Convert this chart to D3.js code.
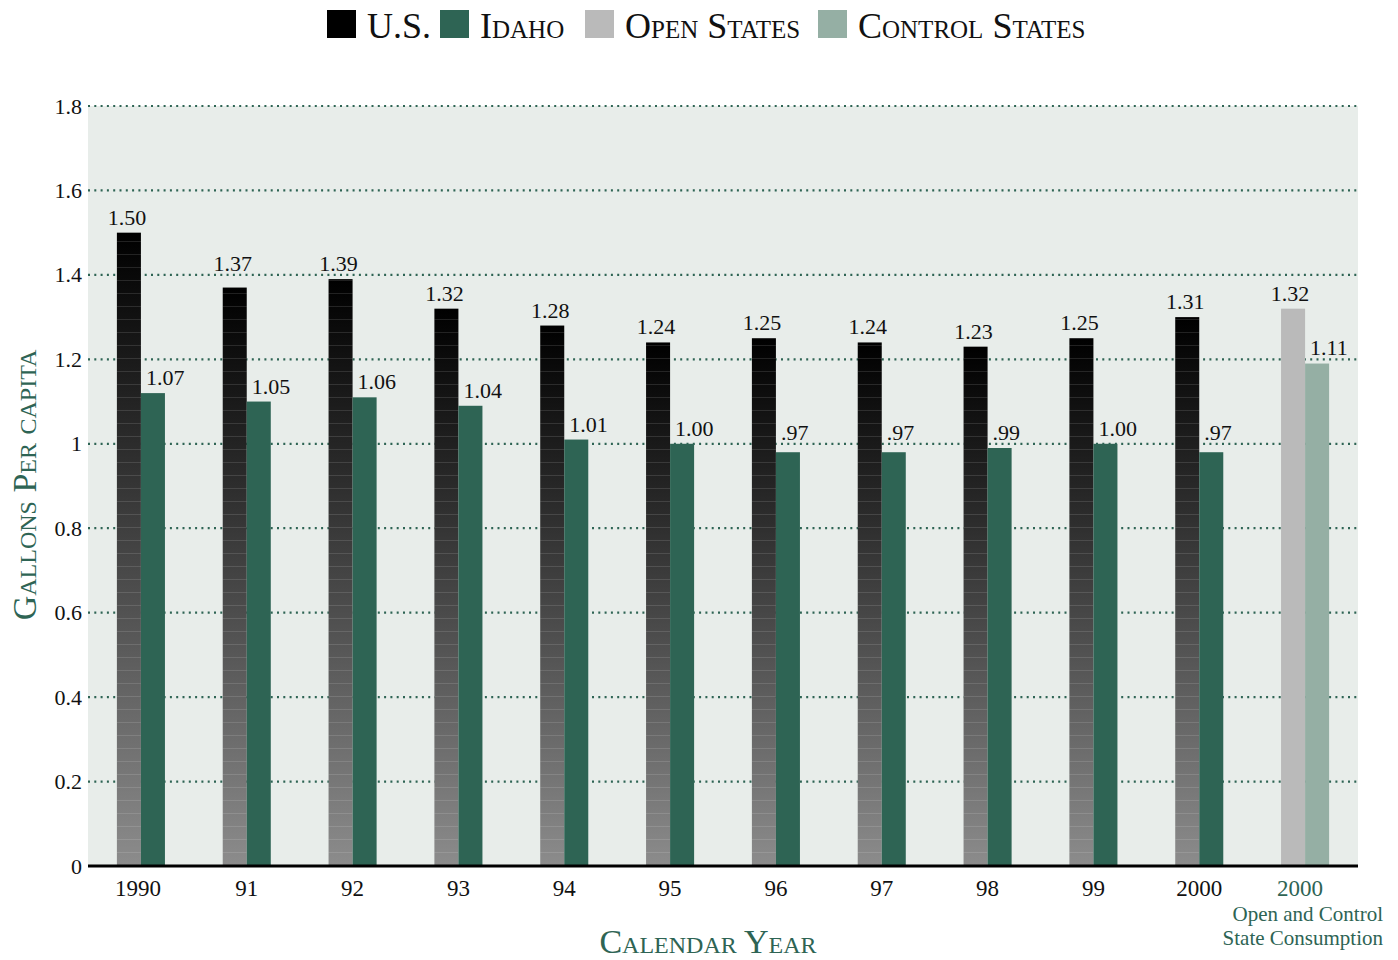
<!DOCTYPE html>
<html>
<head>
<meta charset="utf-8">
<script src="https://cdn.jsdelivr.net/npm/d3@7"></script>
<style>
  body { margin: 0; background: #fff; }
  svg text { font-family: "Liberation Serif", "DejaVu Serif", serif; }
  .sc { font-variant: small-caps; }
</style>
</head>
<body>
<svg id="chart" width="1398" height="960"></svg>
<script>
// categories and values (bar heights, labels as printed)
const categories = ["1990", "91", "92", "93", "94", "95", "96", "97", "98", "99", "2000", "2000 "];
const usValues = [1.50, 1.37, 1.39, 1.32, 1.28, 1.24, 1.25, 1.24, 1.23, 1.25, 1.30];
const usLabels = ["1.50", "1.37", "1.39", "1.32", "1.28", "1.24", "1.25", "1.24", "1.23", "1.25", "1.31"];
const idahoValues = [1.12, 1.10, 1.11, 1.09, 1.01, 1.00, 0.98, 0.98, 0.99, 1.00, 0.98];
const idahoLabels = ["1.07", "1.05", "1.06", "1.04", "1.01", "1.00", ".97", ".97", ".99", "1.00", ".97"];
const openValue = 1.32, openLabel = "1.32";
const controlValue = 1.19, controlLabel = "1.11";
const yTicks = [0, 0.2, 0.4, 0.6, 0.8, 1, 1.2, 1.4, 1.6, 1.8];
const legendItems = ["U.S.", "Idaho", "Open States", "Control States"];

const green = "#2e6454", black = "#000", openGrey = "#bababa", controlGreen = "#95afa4";

const margin = { top: 106, right: 40, bottom: 94, left: 88 },
      width  = 1398 - margin.left - margin.right,
      height = 960 - margin.top - margin.bottom;

const svg = d3.select("#chart");
const defs = svg.append("defs");

const grad = defs.append("linearGradient")
  .attr("id", "usGrad").attr("x1", 0).attr("y1", 0).attr("x2", 0).attr("y2", 1);
grad.append("stop").attr("offset", "0%").attr("stop-color", "#000");
grad.append("stop").attr("offset", "35%").attr("stop-color", "#2e2e2e");
grad.append("stop").attr("offset", "100%").attr("stop-color", "#8c8c8c");

const stripes = defs.append("pattern")
  .attr("id", "stripes").attr("patternUnits", "userSpaceOnUse")
  .attr("width", 10).attr("height", 13);
stripes.append("rect").attr("y", 5).attr("width", 10).attr("height", 1)
  .attr("fill", "#fff").attr("opacity", 0.12);

const g = svg.append("g").attr("transform", `translate(${margin.left},${margin.top})`);

const x = d3.scaleBand().domain(categories).range([0, width]).paddingInner(0.546).paddingOuter(0.273);
const y = d3.scaleLinear().domain([0, 1.8]).range([height, 0]);
const bw = x.bandwidth() / 2;

// background
g.append("rect").attr("width", width).attr("height", height).attr("fill", "#e8edea");

// grid
g.append("g").selectAll("line").data(yTicks.filter(d => d > 0)).join("line")
  .attr("x1", 0).attr("x2", width)
  .attr("y1", d => y(d)).attr("y2", d => y(d))
  .attr("stroke", green).attr("stroke-width", 2.2)
  .attr("stroke-dasharray", "2 4.3");

// y axis labels
const yAxis = g.append("g").call(d3.axisLeft(y).tickValues(yTicks).tickSize(0).tickPadding(6)
  .tickFormat(d => d === 0 || d === 1 ? String(d) : d3.format(".1f")(d)));
yAxis.select(".domain").remove();
yAxis.selectAll("text").attr("font-size", 22).attr("fill", "#111");

const years = categories.slice(0, 11);

// US bars
const usBars = g.append("g").selectAll("g").data(years).join("g");
usBars.append("rect")
  .attr("x", d => x(d)).attr("y", (d, i) => y(usValues[i]))
  .attr("width", bw).attr("height", (d, i) => height - y(usValues[i]))
  .attr("fill", "url(#usGrad)");
usBars.append("rect")
  .attr("x", d => x(d)).attr("y", (d, i) => y(usValues[i]))
  .attr("width", bw).attr("height", (d, i) => height - y(usValues[i]))
  .attr("fill", "url(#stripes)");

// Idaho bars
g.append("g").selectAll("rect").data(years).join("rect")
  .attr("x", d => x(d) + bw).attr("y", (d, i) => y(idahoValues[i]))
  .attr("width", bw).attr("height", (d, i) => height - y(idahoValues[i]))
  .attr("fill", green);

// open / control
const last = categories[11];
g.append("rect").attr("x", x(last)).attr("y", y(openValue))
  .attr("width", bw).attr("height", height - y(openValue)).attr("fill", openGrey);
g.append("rect").attr("x", x(last) + bw).attr("y", y(controlValue))
  .attr("width", bw).attr("height", height - y(controlValue)).attr("fill", controlGreen);

// value labels: sit just above the bar, lifted clear of a dotted gridline
const gridYs = yTicks.filter(d => d > 0).map(d => y(d));
function labelY(v) {
  let b = y(v) - 8;
  const hit = gridYs.find(gy => gy > b - 15 && gy < b + 4);
  if (hit !== undefined) b = hit - 4;
  return b;
}
const lab = g.append("g").attr("font-size", 22).attr("fill", "#111");
years.forEach((d, i) => {
  lab.append("text").attr("x", x(d) + bw / 2 - 2).attr("y", labelY(usValues[i]))
    .attr("text-anchor", "middle").text(usLabels[i]);
  lab.append("text").attr("x", x(d) + bw + 5).attr("y", labelY(idahoValues[i]))
    .text(idahoLabels[i]);
});
lab.append("text").attr("x", x(last) + bw / 2 - 3).attr("y", labelY(openValue))
  .attr("text-anchor", "middle").text(openLabel);
lab.append("text").attr("x", x(last) + bw + 5).attr("y", labelY(controlValue))
  .text(controlLabel);

// baseline
g.append("line").attr("x1", 0).attr("x2", width).attr("y1", height).attr("y2", height)
  .attr("stroke", "#000").attr("stroke-width", 3);

// x axis labels
const xAxis = g.append("g").attr("transform", `translate(0,${height})`)
  .call(d3.axisBottom(x).tickSize(0).tickPadding(14));
xAxis.select(".domain").remove();
xAxis.selectAll("text").attr("font-size", 23).attr("fill", "#111")
  .attr("dx", (d, i) => i === 0 ? -3 : (d === last ? -5 : 0))
  .filter(d => d === last).attr("fill", green).text("2000");

// subtitle below last category
const sub = g.append("text").attr("font-size", 21).attr("fill", green)
  .attr("text-anchor", "end").attr("transform", `translate(${width + 25},${height})`)
  .attr("font-family", "Liberation Sans Narrow, Liberation Serif, serif");
sub.append("tspan").attr("x", 0).attr("y", 55).text("Open and Control");
sub.append("tspan").attr("x", 0).attr("y", 79).text("State Consumption");

// axis titles
svg.append("text").attr("class", "sc")
  .attr("x", 708).attr("y", 953)
  .attr("text-anchor", "middle").attr("font-size", 34).attr("fill", green)
  .text("Calendar Year");
svg.append("text").attr("class", "sc")
  .attr("transform", `translate(36,${margin.top + height / 2 - 1}) rotate(-90)`)
  .attr("text-anchor", "middle").attr("font-size", 34).attr("fill", green)
  .text("Gallons Per capita");

// legend
const legendColors = [black, green, openGrey, controlGreen];
const legendX = [327, 440, 585, 818];
const legend = svg.append("g");
legendItems.forEach((t, i) => {
  legend.append("rect").attr("x", legendX[i]).attr("y", 10).attr("width", 29).attr("height", 28)
    .attr("fill", legendColors[i]);
  legend.append("text").attr("class", "sc").attr("x", legendX[i] + 40).attr("y", 38)
    .attr("font-size", 36).attr("fill", "#111").text(t);
});
</script>
</body>
</html>
